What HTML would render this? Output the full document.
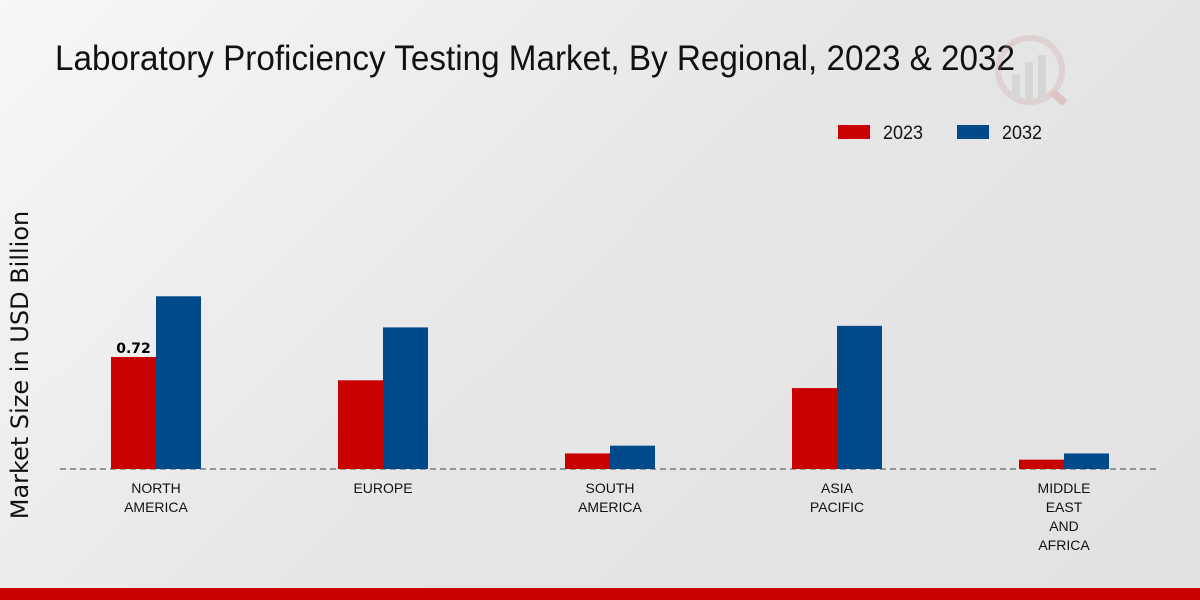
<!DOCTYPE html>
<html><head><meta charset="utf-8"><style>
body{margin:0;width:1200px;height:600px;overflow:hidden;font-family:"Liberation Sans Narrow","Liberation Sans",sans-serif;}
#bg{position:absolute;left:0;top:0;width:1200px;height:600px;background:linear-gradient(135deg,#f7f7f7 0%,#e6e6e6 50%,#e2e2e2 100%);}
</style></head><body>
<div id="bg"></div>
<svg id="chart" width="1200" height="600" style="position:absolute;left:0;top:0">
<text x="55" y="70" font-size="35" fill="#111" textLength="960" lengthAdjust="spacingAndGlyphs">Laboratory Proficiency Testing Market, By Regional, 2023 &amp; 2032</text>
<g opacity="0.25">
<circle cx="1030" cy="70" r="32" fill="none" stroke="#c99" stroke-width="6"/>
<rect x="1012" y="75" width="8" height="25" fill="#aaa"/><rect x="1025" y="62" width="8" height="38" fill="#aaa"/><rect x="1038" y="55" width="8" height="45" fill="#aaa"/>
<line x1="1052" y1="92" x2="1065" y2="103" stroke="#c66" stroke-width="8"/>
</g>
<g>
<rect x="838" y="125" width="32" height="14" fill="#c80000"/>
<text x="883" y="139" font-size="19" fill="#111" textLength="40" lengthAdjust="spacingAndGlyphs">2023</text>
<rect x="957" y="125" width="32" height="14" fill="#004a8c"/>
<text x="1002" y="139" font-size="19" fill="#111" textLength="40" lengthAdjust="spacingAndGlyphs">2032</text>
</g>
<text transform="translate(28,365) rotate(-90)" text-anchor="middle" font-family="'DejaVu Sans',sans-serif" font-size="24" fill="#111">Market Size in USD Billion</text>
<line x1="60" y1="469" x2="1160" y2="469" stroke="#444" stroke-dasharray="6,4"/>
<g id="bars"></g>
</svg>
<div style="position:absolute;left:0;top:588px;width:1200px;height:12px;background:#c80000"></div>
<script>
const categories=[["NORTH","AMERICA"],["EUROPE"],["SOUTH","AMERICA"],["ASIA","PACIFIC"],["MIDDLE","EAST","AND","AFRICA"]];
const values2023=[0.72,0.57,0.10,0.52,0.06];
const values2032=[1.11,0.91,0.15,0.92,0.10];
const valueLabels=["0.72","","","",""];
const baseY=469, pxPerUnit=155.6, x0=156, step=227, bw=45;
const y=v=>baseY-v*pxPerUnit;
const xc=i=>x0+i*step;
const g=document.getElementById('bars');
const NS='http://www.w3.org/2000/svg';
function rect(x,v,fill,name){const r=document.createElementNS(NS,'rect');
r.setAttribute('x',x);r.setAttribute('y',y(v));r.setAttribute('width',bw);r.setAttribute('height',baseY-y(v));r.setAttribute('fill',fill);


g.appendChild(r);}
categories.forEach((c,i)=>{
rect(xc(i)-bw,values2023[i],'#c80000','bar-2023-'+i);
rect(xc(i),values2032[i],'#004a8c','bar-2032-'+i);
if(valueLabels[i]){const t=document.createElementNS(NS,'text');
t.setAttribute('x',xc(i)-bw/2);t.setAttribute('y',y(values2023[i])-4);t.setAttribute('text-anchor','middle');
t.setAttribute('font-size','14');t.setAttribute('font-weight','bold');t.setAttribute('font-family',"'DejaVu Sans',sans-serif");t.textContent=valueLabels[i];


g.appendChild(t);}
c.forEach((line,j)=>{const t=document.createElementNS(NS,'text');
t.setAttribute('x',xc(i));t.setAttribute('y',493+j*19);t.setAttribute('text-anchor','middle');t.setAttribute('font-size','14');t.setAttribute('fill','#111');
t.textContent=line;


g.appendChild(t);});
});
</script>
</body></html>
